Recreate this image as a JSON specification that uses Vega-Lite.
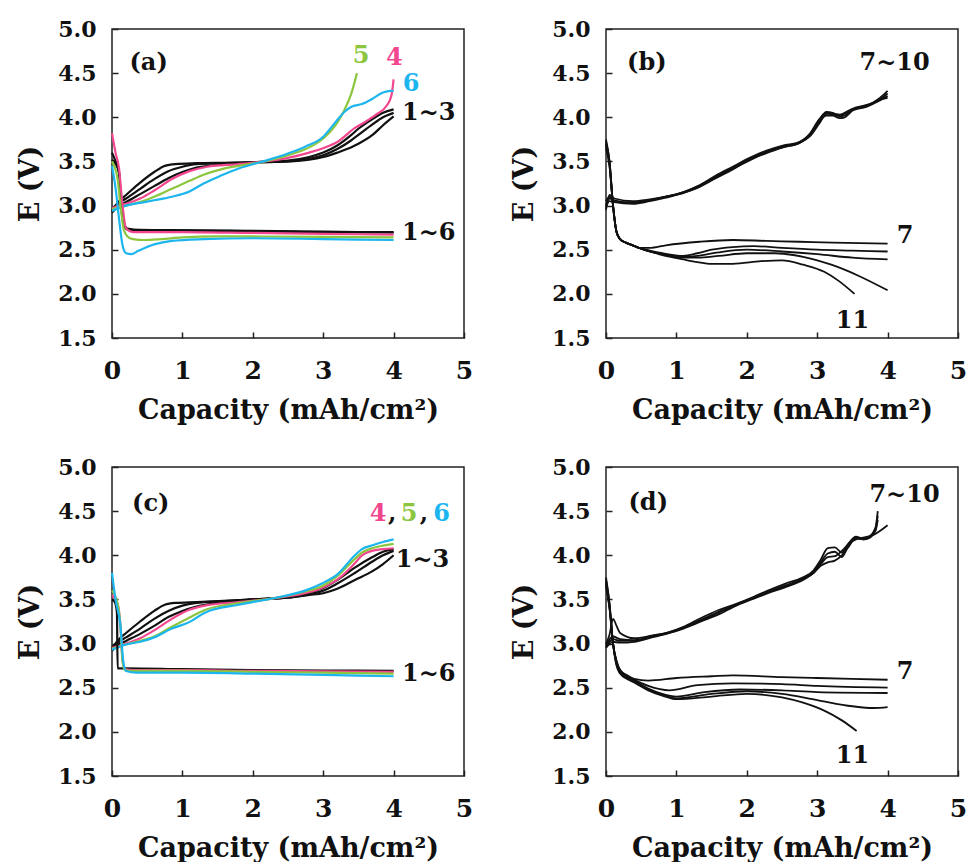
{
"$schema": "https://vega.github.io/schema/vega-lite/v6.json",
"padding": {"left": 15, "top": 17, "right": 5, "bottom": 0},
"columns": 2,
"spacing": {"row": 31, "column": 35},
"config": {
 "view": {"stroke": "#222", "strokeWidth": 1.5},
 "font": "DejaVu Serif",
 "axis": {"labelFont": "DejaVu Serif", "labelFontWeight": "bold", "labelColor": "#111", "titleFont": "DejaVu Serif", "titleFontWeight": "bold", "titleFontSize": 27, "titleColor": "#111", "grid": false, "domain": false, "tickSize": -6, "tickColor": "#222", "tickWidth": 1.5, "labelFlush": false, "labelOverlap": false},
 "axisX": {"labelFontSize": 25, "labelPadding": 26, "titlePadding": 14},
 "axisY": {"labelFontSize": 22, "labelPadding": 22, "titlePadding": 13}
},
"datasets": {
"curves": [
{"p":"a","s":"ac1","c":"k","x":0,"y":2.95},{"p":"a","s":"ac1","c":"k","x":0.1,"y":3.05},{"p":"a","s":"ac1","c":"k","x":0.2,"y":3.12},{"p":"a","s":"ac1","c":"k","x":0.4,"y":3.26},{"p":"a","s":"ac1","c":"k","x":0.6,"y":3.38},{"p":"a","s":"ac1","c":"k","x":0.75,"y":3.45},{"p":"a","s":"ac1","c":"k","x":0.9,"y":3.47},{"p":"a","s":"ac1","c":"k","x":1.2,"y":3.48},{"p":"a","s":"ac1","c":"k","x":1.6,"y":3.485},{"p":"a","s":"ac1","c":"k","x":2.0,"y":3.49},{"p":"a","s":"ac1","c":"k","x":2.5,"y":3.5},{"p":"a","s":"ac1","c":"k","x":2.8,"y":3.52},{"p":"a","s":"ac1","c":"k","x":3.0,"y":3.55},{"p":"a","s":"ac1","c":"k","x":3.2,"y":3.6},{"p":"a","s":"ac1","c":"k","x":3.4,"y":3.66},{"p":"a","s":"ac1","c":"k","x":3.5,"y":3.7},{"p":"a","s":"ac1","c":"k","x":3.7,"y":3.8},{"p":"a","s":"ac1","c":"k","x":3.85,"y":3.91},{"p":"a","s":"ac1","c":"k","x":4.0,"y":4.01},
{"p":"a","s":"ac2","c":"k","x":0,"y":2.93},{"p":"a","s":"ac2","c":"k","x":0.1,"y":3.03},{"p":"a","s":"ac2","c":"k","x":0.2,"y":3.08},{"p":"a","s":"ac2","c":"k","x":0.4,"y":3.19},{"p":"a","s":"ac2","c":"k","x":0.6,"y":3.3},{"p":"a","s":"ac2","c":"k","x":0.8,"y":3.39},{"p":"a","s":"ac2","c":"k","x":1.0,"y":3.44},{"p":"a","s":"ac2","c":"k","x":1.2,"y":3.47},{"p":"a","s":"ac2","c":"k","x":1.6,"y":3.48},{"p":"a","s":"ac2","c":"k","x":2.0,"y":3.49},{"p":"a","s":"ac2","c":"k","x":2.5,"y":3.5},{"p":"a","s":"ac2","c":"k","x":2.8,"y":3.53},{"p":"a","s":"ac2","c":"k","x":3.0,"y":3.57},{"p":"a","s":"ac2","c":"k","x":3.2,"y":3.64},{"p":"a","s":"ac2","c":"k","x":3.4,"y":3.74},{"p":"a","s":"ac2","c":"k","x":3.5,"y":3.8},{"p":"a","s":"ac2","c":"k","x":3.7,"y":3.92},{"p":"a","s":"ac2","c":"k","x":3.85,"y":4.0},{"p":"a","s":"ac2","c":"k","x":4.0,"y":4.05},
{"p":"a","s":"ac3","c":"k","x":0,"y":2.92},{"p":"a","s":"ac3","c":"k","x":0.1,"y":3.0},{"p":"a","s":"ac3","c":"k","x":0.2,"y":3.04},{"p":"a","s":"ac3","c":"k","x":0.4,"y":3.13},{"p":"a","s":"ac3","c":"k","x":0.6,"y":3.22},{"p":"a","s":"ac3","c":"k","x":0.8,"y":3.31},{"p":"a","s":"ac3","c":"k","x":1.0,"y":3.38},{"p":"a","s":"ac3","c":"k","x":1.2,"y":3.43},{"p":"a","s":"ac3","c":"k","x":1.5,"y":3.46},{"p":"a","s":"ac3","c":"k","x":2.0,"y":3.49},{"p":"a","s":"ac3","c":"k","x":2.5,"y":3.51},{"p":"a","s":"ac3","c":"k","x":2.8,"y":3.55},{"p":"a","s":"ac3","c":"k","x":3.0,"y":3.6},{"p":"a","s":"ac3","c":"k","x":3.2,"y":3.68},{"p":"a","s":"ac3","c":"k","x":3.4,"y":3.8},{"p":"a","s":"ac3","c":"k","x":3.5,"y":3.87},{"p":"a","s":"ac3","c":"k","x":3.7,"y":3.98},{"p":"a","s":"ac3","c":"k","x":3.85,"y":4.05},{"p":"a","s":"ac3","c":"k","x":4.0,"y":4.09},
{"p":"a","s":"ac4","c":"p","x":0,"y":2.97},{"p":"a","s":"ac4","c":"p","x":0.1,"y":3.0},{"p":"a","s":"ac4","c":"p","x":0.2,"y":3.02},{"p":"a","s":"ac4","c":"p","x":0.4,"y":3.08},{"p":"a","s":"ac4","c":"p","x":0.6,"y":3.17},{"p":"a","s":"ac4","c":"p","x":0.85,"y":3.3},{"p":"a","s":"ac4","c":"p","x":1.1,"y":3.39},{"p":"a","s":"ac4","c":"p","x":1.35,"y":3.44},{"p":"a","s":"ac4","c":"p","x":1.8,"y":3.47},{"p":"a","s":"ac4","c":"p","x":2.05,"y":3.49},{"p":"a","s":"ac4","c":"p","x":2.5,"y":3.54},{"p":"a","s":"ac4","c":"p","x":2.8,"y":3.6},{"p":"a","s":"ac4","c":"p","x":3.0,"y":3.65},{"p":"a","s":"ac4","c":"p","x":3.2,"y":3.72},{"p":"a","s":"ac4","c":"p","x":3.45,"y":3.88},{"p":"a","s":"ac4","c":"p","x":3.6,"y":3.95},{"p":"a","s":"ac4","c":"p","x":3.75,"y":4.03},{"p":"a","s":"ac4","c":"p","x":3.9,"y":4.13},{"p":"a","s":"ac4","c":"p","x":3.97,"y":4.25},{"p":"a","s":"ac4","c":"p","x":4.0,"y":4.43},
{"p":"a","s":"ac5","c":"g","x":0,"y":2.96},{"p":"a","s":"ac5","c":"g","x":0.2,"y":3.0},{"p":"a","s":"ac5","c":"g","x":0.4,"y":3.04},{"p":"a","s":"ac5","c":"g","x":0.6,"y":3.1},{"p":"a","s":"ac5","c":"g","x":0.85,"y":3.19},{"p":"a","s":"ac5","c":"g","x":1.1,"y":3.28},{"p":"a","s":"ac5","c":"g","x":1.3,"y":3.35},{"p":"a","s":"ac5","c":"g","x":1.55,"y":3.41},{"p":"a","s":"ac5","c":"g","x":1.8,"y":3.45},{"p":"a","s":"ac5","c":"g","x":2.1,"y":3.49},{"p":"a","s":"ac5","c":"g","x":2.5,"y":3.57},{"p":"a","s":"ac5","c":"g","x":2.75,"y":3.64},{"p":"a","s":"ac5","c":"g","x":3.0,"y":3.76},{"p":"a","s":"ac5","c":"g","x":3.2,"y":3.94},{"p":"a","s":"ac5","c":"g","x":3.3,"y":4.08},{"p":"a","s":"ac5","c":"g","x":3.4,"y":4.27},{"p":"a","s":"ac5","c":"g","x":3.48,"y":4.5},
{"p":"a","s":"ac6","c":"b","x":0,"y":2.94},{"p":"a","s":"ac6","c":"b","x":0.2,"y":3.0},{"p":"a","s":"ac6","c":"b","x":0.4,"y":3.03},{"p":"a","s":"ac6","c":"b","x":0.6,"y":3.06},{"p":"a","s":"ac6","c":"b","x":0.85,"y":3.1},{"p":"a","s":"ac6","c":"b","x":1.1,"y":3.16},{"p":"a","s":"ac6","c":"b","x":1.3,"y":3.25},{"p":"a","s":"ac6","c":"b","x":1.55,"y":3.34},{"p":"a","s":"ac6","c":"b","x":1.8,"y":3.42},{"p":"a","s":"ac6","c":"b","x":2.1,"y":3.49},{"p":"a","s":"ac6","c":"b","x":2.5,"y":3.59},{"p":"a","s":"ac6","c":"b","x":2.75,"y":3.67},{"p":"a","s":"ac6","c":"b","x":3.0,"y":3.78},{"p":"a","s":"ac6","c":"b","x":3.15,"y":3.92},{"p":"a","s":"ac6","c":"b","x":3.3,"y":4.06},{"p":"a","s":"ac6","c":"b","x":3.4,"y":4.12},{"p":"a","s":"ac6","c":"b","x":3.55,"y":4.15},{"p":"a","s":"ac6","c":"b","x":3.7,"y":4.21},{"p":"a","s":"ac6","c":"b","x":3.85,"y":4.28},{"p":"a","s":"ac6","c":"b","x":3.95,"y":4.3},{"p":"a","s":"ac6","c":"b","x":4.0,"y":4.3},
{"p":"a","s":"ad1","c":"k","x":0,"y":3.52},{"p":"a","s":"ad1","c":"k","x":0.05,"y":3.47},{"p":"a","s":"ad1","c":"k","x":0.1,"y":3.38},{"p":"a","s":"ad1","c":"k","x":0.13,"y":3.0},{"p":"a","s":"ad1","c":"k","x":0.17,"y":2.78},{"p":"a","s":"ad1","c":"k","x":0.22,"y":2.73},{"p":"a","s":"ad1","c":"k","x":0.4,"y":2.72},{"p":"a","s":"ad1","c":"k","x":1,"y":2.72},{"p":"a","s":"ad1","c":"k","x":2,"y":2.71},{"p":"a","s":"ad1","c":"k","x":3,"y":2.7},{"p":"a","s":"ad1","c":"k","x":4,"y":2.7},
{"p":"a","s":"ad2","c":"k","x":0,"y":3.6},{"p":"a","s":"ad2","c":"k","x":0.05,"y":3.5},{"p":"a","s":"ad2","c":"k","x":0.1,"y":3.36},{"p":"a","s":"ad2","c":"k","x":0.13,"y":3.02},{"p":"a","s":"ad2","c":"k","x":0.17,"y":2.8},{"p":"a","s":"ad2","c":"k","x":0.22,"y":2.74},{"p":"a","s":"ad2","c":"k","x":0.4,"y":2.725},{"p":"a","s":"ad2","c":"k","x":1,"y":2.72},{"p":"a","s":"ad2","c":"k","x":2,"y":2.715},{"p":"a","s":"ad2","c":"k","x":3,"y":2.705},{"p":"a","s":"ad2","c":"k","x":4,"y":2.695},
{"p":"a","s":"ad4","c":"p","x":0,"y":3.82},{"p":"a","s":"ad4","c":"p","x":0.05,"y":3.6},{"p":"a","s":"ad4","c":"p","x":0.1,"y":3.42},{"p":"a","s":"ad4","c":"p","x":0.15,"y":3.0},{"p":"a","s":"ad4","c":"p","x":0.2,"y":2.74},{"p":"a","s":"ad4","c":"p","x":0.3,"y":2.7},{"p":"a","s":"ad4","c":"p","x":1,"y":2.7},{"p":"a","s":"ad4","c":"p","x":2,"y":2.69},{"p":"a","s":"ad4","c":"p","x":3,"y":2.68},{"p":"a","s":"ad4","c":"p","x":4,"y":2.67},
{"p":"a","s":"ad5","c":"g","x":0,"y":3.5},{"p":"a","s":"ad5","c":"g","x":0.08,"y":3.3},{"p":"a","s":"ad5","c":"g","x":0.12,"y":3.0},{"p":"a","s":"ad5","c":"g","x":0.17,"y":2.72},{"p":"a","s":"ad5","c":"g","x":0.22,"y":2.65},{"p":"a","s":"ad5","c":"g","x":0.3,"y":2.62},{"p":"a","s":"ad5","c":"g","x":0.45,"y":2.61},{"p":"a","s":"ad5","c":"g","x":0.7,"y":2.62},{"p":"a","s":"ad5","c":"g","x":1,"y":2.64},{"p":"a","s":"ad5","c":"g","x":1.5,"y":2.65},{"p":"a","s":"ad5","c":"g","x":2,"y":2.65},{"p":"a","s":"ad5","c":"g","x":3,"y":2.645},{"p":"a","s":"ad5","c":"g","x":4,"y":2.64},
{"p":"a","s":"ad6","c":"b","x":0,"y":3.45},{"p":"a","s":"ad6","c":"b","x":0.05,"y":3.2},{"p":"a","s":"ad6","c":"b","x":0.1,"y":2.85},{"p":"a","s":"ad6","c":"b","x":0.15,"y":2.55},{"p":"a","s":"ad6","c":"b","x":0.2,"y":2.46},{"p":"a","s":"ad6","c":"b","x":0.27,"y":2.45},{"p":"a","s":"ad6","c":"b","x":0.38,"y":2.49},{"p":"a","s":"ad6","c":"b","x":0.6,"y":2.56},{"p":"a","s":"ad6","c":"b","x":0.85,"y":2.6},{"p":"a","s":"ad6","c":"b","x":1.3,"y":2.62},{"p":"a","s":"ad6","c":"b","x":2,"y":2.63},{"p":"a","s":"ad6","c":"b","x":3,"y":2.62},{"p":"a","s":"ad6","c":"b","x":4,"y":2.61},

{"p":"b","s":"bc7","c":"k","x":0,"y":3.0},{"p":"b","s":"bc7","c":"k","x":0.05,"y":3.08},{"p":"b","s":"bc7","c":"k","x":0.12,"y":3.06},{"p":"b","s":"bc7","c":"k","x":0.38,"y":3.03},{"p":"b","s":"bc7","c":"k","x":0.62,"y":3.06},{"p":"b","s":"bc7","c":"k","x":0.85,"y":3.1},{"p":"b","s":"bc7","c":"k","x":1.09,"y":3.14},{"p":"b","s":"bc7","c":"k","x":1.33,"y":3.22},{"p":"b","s":"bc7","c":"k","x":1.56,"y":3.33},{"p":"b","s":"bc7","c":"k","x":1.8,"y":3.43},{"p":"b","s":"bc7","c":"k","x":2.04,"y":3.53},{"p":"b","s":"bc7","c":"k","x":2.27,"y":3.61},{"p":"b","s":"bc7","c":"k","x":2.51,"y":3.67},{"p":"b","s":"bc7","c":"k","x":2.75,"y":3.72},{"p":"b","s":"bc7","c":"k","x":2.89,"y":3.8},{"p":"b","s":"bc7","c":"k","x":3.03,"y":3.97},{"p":"b","s":"bc7","c":"k","x":3.13,"y":4.06},{"p":"b","s":"bc7","c":"k","x":3.22,"y":4.05},{"p":"b","s":"bc7","c":"k","x":3.32,"y":4.01},{"p":"b","s":"bc7","c":"k","x":3.39,"y":4.02},{"p":"b","s":"bc7","c":"k","x":3.51,"y":4.09},{"p":"b","s":"bc7","c":"k","x":3.7,"y":4.13},{"p":"b","s":"bc7","c":"k","x":3.89,"y":4.22},{"p":"b","s":"bc7","c":"k","x":4.0,"y":4.3},
{"p":"b","s":"bc8","c":"k","x":0,"y":2.95},{"p":"b","s":"bc8","c":"k","x":0.05,"y":3.12},{"p":"b","s":"bc8","c":"k","x":0.12,"y":3.08},{"p":"b","s":"bc8","c":"k","x":0.38,"y":3.05},{"p":"b","s":"bc8","c":"k","x":0.62,"y":3.07},{"p":"b","s":"bc8","c":"k","x":0.85,"y":3.1},{"p":"b","s":"bc8","c":"k","x":1.09,"y":3.15},{"p":"b","s":"bc8","c":"k","x":1.33,"y":3.23},{"p":"b","s":"bc8","c":"k","x":1.56,"y":3.32},{"p":"b","s":"bc8","c":"k","x":1.8,"y":3.42},{"p":"b","s":"bc8","c":"k","x":2.04,"y":3.51},{"p":"b","s":"bc8","c":"k","x":2.27,"y":3.6},{"p":"b","s":"bc8","c":"k","x":2.51,"y":3.66},{"p":"b","s":"bc8","c":"k","x":2.75,"y":3.71},{"p":"b","s":"bc8","c":"k","x":2.89,"y":3.78},{"p":"b","s":"bc8","c":"k","x":3.03,"y":3.93},{"p":"b","s":"bc8","c":"k","x":3.13,"y":4.04},{"p":"b","s":"bc8","c":"k","x":3.22,"y":4.04},{"p":"b","s":"bc8","c":"k","x":3.32,"y":4.03},{"p":"b","s":"bc8","c":"k","x":3.39,"y":4.05},{"p":"b","s":"bc8","c":"k","x":3.51,"y":4.1},{"p":"b","s":"bc8","c":"k","x":3.7,"y":4.14},{"p":"b","s":"bc8","c":"k","x":3.89,"y":4.2},{"p":"b","s":"bc8","c":"k","x":4.0,"y":4.27},
{"p":"b","s":"bc9","c":"k","x":0,"y":3.05},{"p":"b","s":"bc9","c":"k","x":0.05,"y":3.1},{"p":"b","s":"bc9","c":"k","x":0.12,"y":3.04},{"p":"b","s":"bc9","c":"k","x":0.38,"y":3.02},{"p":"b","s":"bc9","c":"k","x":0.62,"y":3.05},{"p":"b","s":"bc9","c":"k","x":0.85,"y":3.09},{"p":"b","s":"bc9","c":"k","x":1.09,"y":3.14},{"p":"b","s":"bc9","c":"k","x":1.33,"y":3.21},{"p":"b","s":"bc9","c":"k","x":1.56,"y":3.31},{"p":"b","s":"bc9","c":"k","x":1.8,"y":3.41},{"p":"b","s":"bc9","c":"k","x":2.04,"y":3.52},{"p":"b","s":"bc9","c":"k","x":2.27,"y":3.59},{"p":"b","s":"bc9","c":"k","x":2.51,"y":3.66},{"p":"b","s":"bc9","c":"k","x":2.75,"y":3.71},{"p":"b","s":"bc9","c":"k","x":2.89,"y":3.79},{"p":"b","s":"bc9","c":"k","x":3.03,"y":3.95},{"p":"b","s":"bc9","c":"k","x":3.13,"y":4.02},{"p":"b","s":"bc9","c":"k","x":3.22,"y":4.02},{"p":"b","s":"bc9","c":"k","x":3.32,"y":3.99},{"p":"b","s":"bc9","c":"k","x":3.39,"y":4.0},{"p":"b","s":"bc9","c":"k","x":3.51,"y":4.08},{"p":"b","s":"bc9","c":"k","x":3.7,"y":4.12},{"p":"b","s":"bc9","c":"k","x":3.89,"y":4.19},{"p":"b","s":"bc9","c":"k","x":4.0,"y":4.24},
{"p":"b","s":"bc10","c":"k","x":0,"y":2.98},{"p":"b","s":"bc10","c":"k","x":0.05,"y":3.05},{"p":"b","s":"bc10","c":"k","x":0.12,"y":3.04},{"p":"b","s":"bc10","c":"k","x":0.38,"y":3.04},{"p":"b","s":"bc10","c":"k","x":0.62,"y":3.06},{"p":"b","s":"bc10","c":"k","x":0.85,"y":3.1},{"p":"b","s":"bc10","c":"k","x":1.09,"y":3.15},{"p":"b","s":"bc10","c":"k","x":1.33,"y":3.23},{"p":"b","s":"bc10","c":"k","x":1.56,"y":3.34},{"p":"b","s":"bc10","c":"k","x":1.8,"y":3.44},{"p":"b","s":"bc10","c":"k","x":2.04,"y":3.54},{"p":"b","s":"bc10","c":"k","x":2.27,"y":3.62},{"p":"b","s":"bc10","c":"k","x":2.51,"y":3.68},{"p":"b","s":"bc10","c":"k","x":2.75,"y":3.72},{"p":"b","s":"bc10","c":"k","x":2.89,"y":3.81},{"p":"b","s":"bc10","c":"k","x":3.03,"y":3.98},{"p":"b","s":"bc10","c":"k","x":3.13,"y":4.05},{"p":"b","s":"bc10","c":"k","x":3.22,"y":4.03},{"p":"b","s":"bc10","c":"k","x":3.32,"y":4.02},{"p":"b","s":"bc10","c":"k","x":3.39,"y":4.04},{"p":"b","s":"bc10","c":"k","x":3.51,"y":4.09},{"p":"b","s":"bc10","c":"k","x":3.7,"y":4.12},{"p":"b","s":"bc10","c":"k","x":3.89,"y":4.2},{"p":"b","s":"bc10","c":"k","x":4.0,"y":4.22},
{"p":"b","s":"bd7","c":"k","x":0,"y":3.75},{"p":"b","s":"bd7","c":"k","x":0.05,"y":3.5},{"p":"b","s":"bd7","c":"k","x":0.1,"y":3.0},{"p":"b","s":"bd7","c":"k","x":0.15,"y":2.7},{"p":"b","s":"bd7","c":"k","x":0.2,"y":2.62},{"p":"b","s":"bd7","c":"k","x":0.28,"y":2.58},{"p":"b","s":"bd7","c":"k","x":0.38,"y":2.55},{"p":"b","s":"bd7","c":"k","x":0.47,"y":2.52},{"p":"b","s":"bd7","c":"k","x":0.62,"y":2.52},{"p":"b","s":"bd7","c":"k","x":0.85,"y":2.55},{"p":"b","s":"bd7","c":"k","x":1.33,"y":2.59},{"p":"b","s":"bd7","c":"k","x":1.8,"y":2.61},{"p":"b","s":"bd7","c":"k","x":2.27,"y":2.6},{"p":"b","s":"bd7","c":"k","x":2.75,"y":2.59},{"p":"b","s":"bd7","c":"k","x":3.22,"y":2.58},{"p":"b","s":"bd7","c":"k","x":4.0,"y":2.57},
{"p":"b","s":"bd8","c":"k","x":0,"y":3.72},{"p":"b","s":"bd8","c":"k","x":0.05,"y":3.5},{"p":"b","s":"bd8","c":"k","x":0.1,"y":3.0},{"p":"b","s":"bd8","c":"k","x":0.15,"y":2.7},{"p":"b","s":"bd8","c":"k","x":0.2,"y":2.62},{"p":"b","s":"bd8","c":"k","x":0.28,"y":2.58},{"p":"b","s":"bd8","c":"k","x":0.38,"y":2.55},{"p":"b","s":"bd8","c":"k","x":0.47,"y":2.52},{"p":"b","s":"bd8","c":"k","x":0.62,"y":2.49},{"p":"b","s":"bd8","c":"k","x":0.8,"y":2.46},{"p":"b","s":"bd8","c":"k","x":1.1,"y":2.43},{"p":"b","s":"bd8","c":"k","x":1.3,"y":2.46},{"p":"b","s":"bd8","c":"k","x":1.5,"y":2.5},{"p":"b","s":"bd8","c":"k","x":1.8,"y":2.53},{"p":"b","s":"bd8","c":"k","x":2.1,"y":2.54},{"p":"b","s":"bd8","c":"k","x":2.5,"y":2.52},{"p":"b","s":"bd8","c":"k","x":3.0,"y":2.5},{"p":"b","s":"bd8","c":"k","x":3.5,"y":2.49},{"p":"b","s":"bd8","c":"k","x":4.0,"y":2.48},
{"p":"b","s":"bd9","c":"k","x":0,"y":3.7},{"p":"b","s":"bd9","c":"k","x":0.05,"y":3.48},{"p":"b","s":"bd9","c":"k","x":0.1,"y":3.0},{"p":"b","s":"bd9","c":"k","x":0.15,"y":2.7},{"p":"b","s":"bd9","c":"k","x":0.2,"y":2.62},{"p":"b","s":"bd9","c":"k","x":0.28,"y":2.58},{"p":"b","s":"bd9","c":"k","x":0.38,"y":2.55},{"p":"b","s":"bd9","c":"k","x":0.47,"y":2.52},{"p":"b","s":"bd9","c":"k","x":0.62,"y":2.48},{"p":"b","s":"bd9","c":"k","x":0.8,"y":2.45},{"p":"b","s":"bd9","c":"k","x":1.1,"y":2.42},{"p":"b","s":"bd9","c":"k","x":1.3,"y":2.43},{"p":"b","s":"bd9","c":"k","x":1.6,"y":2.47},{"p":"b","s":"bd9","c":"k","x":2.0,"y":2.5},{"p":"b","s":"bd9","c":"k","x":2.5,"y":2.48},{"p":"b","s":"bd9","c":"k","x":3.0,"y":2.45},{"p":"b","s":"bd9","c":"k","x":3.5,"y":2.41},{"p":"b","s":"bd9","c":"k","x":4.0,"y":2.39},
{"p":"b","s":"bd10","c":"k","x":0,"y":3.68},{"p":"b","s":"bd10","c":"k","x":0.05,"y":3.45},{"p":"b","s":"bd10","c":"k","x":0.1,"y":3.0},{"p":"b","s":"bd10","c":"k","x":0.15,"y":2.7},{"p":"b","s":"bd10","c":"k","x":0.2,"y":2.62},{"p":"b","s":"bd10","c":"k","x":0.28,"y":2.58},{"p":"b","s":"bd10","c":"k","x":0.38,"y":2.55},{"p":"b","s":"bd10","c":"k","x":0.47,"y":2.52},{"p":"b","s":"bd10","c":"k","x":0.62,"y":2.48},{"p":"b","s":"bd10","c":"k","x":0.8,"y":2.45},{"p":"b","s":"bd10","c":"k","x":1.1,"y":2.41},{"p":"b","s":"bd10","c":"k","x":1.3,"y":2.41},{"p":"b","s":"bd10","c":"k","x":1.6,"y":2.43},{"p":"b","s":"bd10","c":"k","x":2.0,"y":2.46},{"p":"b","s":"bd10","c":"k","x":2.4,"y":2.46},{"p":"b","s":"bd10","c":"k","x":2.8,"y":2.42},{"p":"b","s":"bd10","c":"k","x":3.2,"y":2.33},{"p":"b","s":"bd10","c":"k","x":3.6,"y":2.2},{"p":"b","s":"bd10","c":"k","x":4.0,"y":2.04},
{"p":"b","s":"bd11","c":"k","x":0,"y":3.65},{"p":"b","s":"bd11","c":"k","x":0.05,"y":3.45},{"p":"b","s":"bd11","c":"k","x":0.1,"y":3.0},{"p":"b","s":"bd11","c":"k","x":0.15,"y":2.7},{"p":"b","s":"bd11","c":"k","x":0.2,"y":2.62},{"p":"b","s":"bd11","c":"k","x":0.28,"y":2.58},{"p":"b","s":"bd11","c":"k","x":0.38,"y":2.55},{"p":"b","s":"bd11","c":"k","x":0.47,"y":2.52},{"p":"b","s":"bd11","c":"k","x":0.62,"y":2.48},{"p":"b","s":"bd11","c":"k","x":0.8,"y":2.44},{"p":"b","s":"bd11","c":"k","x":1.1,"y":2.39},{"p":"b","s":"bd11","c":"k","x":1.3,"y":2.36},{"p":"b","s":"bd11","c":"k","x":1.5,"y":2.34},{"p":"b","s":"bd11","c":"k","x":1.8,"y":2.34},{"p":"b","s":"bd11","c":"k","x":2.2,"y":2.37},{"p":"b","s":"bd11","c":"k","x":2.5,"y":2.38},{"p":"b","s":"bd11","c":"k","x":2.8,"y":2.33},{"p":"b","s":"bd11","c":"k","x":3.1,"y":2.25},{"p":"b","s":"bd11","c":"k","x":3.3,"y":2.15},{"p":"b","s":"bd11","c":"k","x":3.53,"y":2.0},

{"p":"c","s":"cc1","c":"k","x":0,"y":2.95},{"p":"c","s":"cc1","c":"k","x":0.1,"y":3.05},{"p":"c","s":"cc1","c":"k","x":0.2,"y":3.12},{"p":"c","s":"cc1","c":"k","x":0.4,"y":3.25},{"p":"c","s":"cc1","c":"k","x":0.6,"y":3.37},{"p":"c","s":"cc1","c":"k","x":0.75,"y":3.44},{"p":"c","s":"cc1","c":"k","x":0.9,"y":3.46},{"p":"c","s":"cc1","c":"k","x":1.2,"y":3.47},{"p":"c","s":"cc1","c":"k","x":2,"y":3.5},{"p":"c","s":"cc1","c":"k","x":2.5,"y":3.52},{"p":"c","s":"cc1","c":"k","x":2.8,"y":3.55},{"p":"c","s":"cc1","c":"k","x":3.0,"y":3.57},{"p":"c","s":"cc1","c":"k","x":3.2,"y":3.62},{"p":"c","s":"cc1","c":"k","x":3.45,"y":3.72},{"p":"c","s":"cc1","c":"k","x":3.7,"y":3.82},{"p":"c","s":"cc1","c":"k","x":3.85,"y":3.9},{"p":"c","s":"cc1","c":"k","x":4.0,"y":4.0},
{"p":"c","s":"cc2","c":"k","x":0,"y":2.93},{"p":"c","s":"cc2","c":"k","x":0.1,"y":3.02},{"p":"c","s":"cc2","c":"k","x":0.2,"y":3.07},{"p":"c","s":"cc2","c":"k","x":0.4,"y":3.17},{"p":"c","s":"cc2","c":"k","x":0.6,"y":3.28},{"p":"c","s":"cc2","c":"k","x":0.8,"y":3.37},{"p":"c","s":"cc2","c":"k","x":1.0,"y":3.43},{"p":"c","s":"cc2","c":"k","x":1.2,"y":3.46},{"p":"c","s":"cc2","c":"k","x":1.6,"y":3.48},{"p":"c","s":"cc2","c":"k","x":2,"y":3.5},{"p":"c","s":"cc2","c":"k","x":2.5,"y":3.52},{"p":"c","s":"cc2","c":"k","x":2.8,"y":3.56},{"p":"c","s":"cc2","c":"k","x":3.0,"y":3.6},{"p":"c","s":"cc2","c":"k","x":3.2,"y":3.68},{"p":"c","s":"cc2","c":"k","x":3.45,"y":3.8},{"p":"c","s":"cc2","c":"k","x":3.7,"y":3.93},{"p":"c","s":"cc2","c":"k","x":3.85,"y":4.0},{"p":"c","s":"cc2","c":"k","x":4.0,"y":4.05},
{"p":"c","s":"cc3","c":"k","x":0,"y":2.92},{"p":"c","s":"cc3","c":"k","x":0.1,"y":2.99},{"p":"c","s":"cc3","c":"k","x":0.2,"y":3.03},{"p":"c","s":"cc3","c":"k","x":0.4,"y":3.11},{"p":"c","s":"cc3","c":"k","x":0.6,"y":3.2},{"p":"c","s":"cc3","c":"k","x":0.8,"y":3.3},{"p":"c","s":"cc3","c":"k","x":1.0,"y":3.37},{"p":"c","s":"cc3","c":"k","x":1.2,"y":3.42},{"p":"c","s":"cc3","c":"k","x":1.5,"y":3.46},{"p":"c","s":"cc3","c":"k","x":2,"y":3.5},{"p":"c","s":"cc3","c":"k","x":2.5,"y":3.53},{"p":"c","s":"cc3","c":"k","x":2.8,"y":3.58},{"p":"c","s":"cc3","c":"k","x":3.0,"y":3.63},{"p":"c","s":"cc3","c":"k","x":3.2,"y":3.72},{"p":"c","s":"cc3","c":"k","x":3.45,"y":3.86},{"p":"c","s":"cc3","c":"k","x":3.7,"y":3.98},{"p":"c","s":"cc3","c":"k","x":3.85,"y":4.04},{"p":"c","s":"cc3","c":"k","x":4.0,"y":4.07},
{"p":"c","s":"cc4","c":"p","x":0,"y":2.95},{"p":"c","s":"cc4","c":"p","x":0.2,"y":3.0},{"p":"c","s":"cc4","c":"p","x":0.4,"y":3.06},{"p":"c","s":"cc4","c":"p","x":0.6,"y":3.15},{"p":"c","s":"cc4","c":"p","x":0.85,"y":3.28},{"p":"c","s":"cc4","c":"p","x":1.09,"y":3.38},{"p":"c","s":"cc4","c":"p","x":1.32,"y":3.43},{"p":"c","s":"cc4","c":"p","x":1.8,"y":3.47},{"p":"c","s":"cc4","c":"p","x":2.27,"y":3.51},{"p":"c","s":"cc4","c":"p","x":2.74,"y":3.57},{"p":"c","s":"cc4","c":"p","x":2.98,"y":3.63},{"p":"c","s":"cc4","c":"p","x":3.21,"y":3.73},{"p":"c","s":"cc4","c":"p","x":3.45,"y":3.91},{"p":"c","s":"cc4","c":"p","x":3.55,"y":4.0},{"p":"c","s":"cc4","c":"p","x":3.69,"y":4.05},{"p":"c","s":"cc4","c":"p","x":3.85,"y":4.07},{"p":"c","s":"cc4","c":"p","x":4.0,"y":4.08},
{"p":"c","s":"cc5","c":"g","x":0,"y":2.94},{"p":"c","s":"cc5","c":"g","x":0.2,"y":2.99},{"p":"c","s":"cc5","c":"g","x":0.4,"y":3.03},{"p":"c","s":"cc5","c":"g","x":0.6,"y":3.08},{"p":"c","s":"cc5","c":"g","x":0.85,"y":3.19},{"p":"c","s":"cc5","c":"g","x":1.09,"y":3.29},{"p":"c","s":"cc5","c":"g","x":1.32,"y":3.38},{"p":"c","s":"cc5","c":"g","x":1.8,"y":3.46},{"p":"c","s":"cc5","c":"g","x":2.27,"y":3.51},{"p":"c","s":"cc5","c":"g","x":2.74,"y":3.59},{"p":"c","s":"cc5","c":"g","x":2.98,"y":3.65},{"p":"c","s":"cc5","c":"g","x":3.21,"y":3.77},{"p":"c","s":"cc5","c":"g","x":3.45,"y":3.96},{"p":"c","s":"cc5","c":"g","x":3.55,"y":4.03},{"p":"c","s":"cc5","c":"g","x":3.69,"y":4.08},{"p":"c","s":"cc5","c":"g","x":3.85,"y":4.11},{"p":"c","s":"cc5","c":"g","x":4.0,"y":4.13},
{"p":"c","s":"cc6","c":"b","x":0,"y":2.93},{"p":"c","s":"cc6","c":"b","x":0.2,"y":2.99},{"p":"c","s":"cc6","c":"b","x":0.4,"y":3.02},{"p":"c","s":"cc6","c":"b","x":0.6,"y":3.07},{"p":"c","s":"cc6","c":"b","x":0.85,"y":3.17},{"p":"c","s":"cc6","c":"b","x":1.09,"y":3.24},{"p":"c","s":"cc6","c":"b","x":1.32,"y":3.35},{"p":"c","s":"cc6","c":"b","x":1.8,"y":3.44},{"p":"c","s":"cc6","c":"b","x":2.27,"y":3.51},{"p":"c","s":"cc6","c":"b","x":2.74,"y":3.6},{"p":"c","s":"cc6","c":"b","x":2.98,"y":3.68},{"p":"c","s":"cc6","c":"b","x":3.21,"y":3.79},{"p":"c","s":"cc6","c":"b","x":3.45,"y":4.0},{"p":"c","s":"cc6","c":"b","x":3.55,"y":4.07},{"p":"c","s":"cc6","c":"b","x":3.69,"y":4.11},{"p":"c","s":"cc6","c":"b","x":3.85,"y":4.15},{"p":"c","s":"cc6","c":"b","x":4.0,"y":4.18},
{"p":"c","s":"cd1","c":"k","x":0,"y":3.5},{"p":"c","s":"cd1","c":"k","x":0.04,"y":3.47},{"p":"c","s":"cd1","c":"k","x":0.07,"y":3.35},{"p":"c","s":"cd1","c":"k","x":0.08,"y":2.72},{"p":"c","s":"cd1","c":"k","x":0.2,"y":2.72},{"p":"c","s":"cd1","c":"k","x":1,"y":2.71},{"p":"c","s":"cd1","c":"k","x":2,"y":2.7},{"p":"c","s":"cd1","c":"k","x":3,"y":2.695},{"p":"c","s":"cd1","c":"k","x":4,"y":2.69},
{"p":"c","s":"cd4","c":"p","x":0,"y":3.55},{"p":"c","s":"cd4","c":"p","x":0.08,"y":3.45},{"p":"c","s":"cd4","c":"p","x":0.12,"y":3.2},{"p":"c","s":"cd4","c":"p","x":0.15,"y":2.8},{"p":"c","s":"cd4","c":"p","x":0.18,"y":2.71},{"p":"c","s":"cd4","c":"p","x":0.3,"y":2.7},{"p":"c","s":"cd4","c":"p","x":1,"y":2.7},{"p":"c","s":"cd4","c":"p","x":2,"y":2.69},{"p":"c","s":"cd4","c":"p","x":3,"y":2.685},{"p":"c","s":"cd4","c":"p","x":4,"y":2.68},
{"p":"c","s":"cd5","c":"g","x":0,"y":3.6},{"p":"c","s":"cd5","c":"g","x":0.08,"y":3.45},{"p":"c","s":"cd5","c":"g","x":0.12,"y":3.2},{"p":"c","s":"cd5","c":"g","x":0.15,"y":2.8},{"p":"c","s":"cd5","c":"g","x":0.18,"y":2.7},{"p":"c","s":"cd5","c":"g","x":0.3,"y":2.69},{"p":"c","s":"cd5","c":"g","x":1,"y":2.69},{"p":"c","s":"cd5","c":"g","x":2,"y":2.68},{"p":"c","s":"cd5","c":"g","x":3,"y":2.67},{"p":"c","s":"cd5","c":"g","x":4,"y":2.66},
{"p":"c","s":"cd6","c":"b","x":0,"y":3.8},{"p":"c","s":"cd6","c":"b","x":0.05,"y":3.5},{"p":"c","s":"cd6","c":"b","x":0.12,"y":3.2},{"p":"c","s":"cd6","c":"b","x":0.16,"y":2.8},{"p":"c","s":"cd6","c":"b","x":0.2,"y":2.69},{"p":"c","s":"cd6","c":"b","x":0.35,"y":2.67},{"p":"c","s":"cd6","c":"b","x":1,"y":2.67},{"p":"c","s":"cd6","c":"b","x":2,"y":2.66},{"p":"c","s":"cd6","c":"b","x":3,"y":2.645},{"p":"c","s":"cd6","c":"b","x":4,"y":2.63},

{"p":"d","s":"dc7","c":"k","x":0,"y":3.0},{"p":"d","s":"dc7","c":"k","x":0.05,"y":3.1},{"p":"d","s":"dc7","c":"k","x":0.1,"y":3.28},{"p":"d","s":"dc7","c":"k","x":0.15,"y":3.2},{"p":"d","s":"dc7","c":"k","x":0.2,"y":3.12},{"p":"d","s":"dc7","c":"k","x":0.4,"y":3.06},{"p":"d","s":"dc7","c":"k","x":0.65,"y":3.09},{"p":"d","s":"dc7","c":"k","x":0.9,"y":3.13},{"p":"d","s":"dc7","c":"k","x":1.1,"y":3.19},{"p":"d","s":"dc7","c":"k","x":1.35,"y":3.29},{"p":"d","s":"dc7","c":"k","x":1.6,"y":3.38},{"p":"d","s":"dc7","c":"k","x":1.85,"y":3.45},{"p":"d","s":"dc7","c":"k","x":2.1,"y":3.53},{"p":"d","s":"dc7","c":"k","x":2.3,"y":3.6},{"p":"d","s":"dc7","c":"k","x":2.55,"y":3.68},{"p":"d","s":"dc7","c":"k","x":2.8,"y":3.75},{"p":"d","s":"dc7","c":"k","x":2.95,"y":3.83},{"p":"d","s":"dc7","c":"k","x":3.05,"y":3.95},{"p":"d","s":"dc7","c":"k","x":3.15,"y":4.08},{"p":"d","s":"dc7","c":"k","x":3.25,"y":4.09},{"p":"d","s":"dc7","c":"k","x":3.35,"y":4.03},{"p":"d","s":"dc7","c":"k","x":3.45,"y":4.14},{"p":"d","s":"dc7","c":"k","x":3.55,"y":4.21},{"p":"d","s":"dc7","c":"k","x":3.65,"y":4.19},{"p":"d","s":"dc7","c":"k","x":3.75,"y":4.22},{"p":"d","s":"dc7","c":"k","x":3.83,"y":4.32},{"p":"d","s":"dc7","c":"k","x":3.86,"y":4.5},
{"p":"d","s":"dc8","c":"k","x":0,"y":2.98},{"p":"d","s":"dc8","c":"k","x":0.1,"y":3.08},{"p":"d","s":"dc8","c":"k","x":0.2,"y":3.05},{"p":"d","s":"dc8","c":"k","x":0.4,"y":3.04},{"p":"d","s":"dc8","c":"k","x":0.65,"y":3.08},{"p":"d","s":"dc8","c":"k","x":0.9,"y":3.13},{"p":"d","s":"dc8","c":"k","x":1.1,"y":3.18},{"p":"d","s":"dc8","c":"k","x":1.35,"y":3.26},{"p":"d","s":"dc8","c":"k","x":1.6,"y":3.35},{"p":"d","s":"dc8","c":"k","x":1.85,"y":3.44},{"p":"d","s":"dc8","c":"k","x":2.1,"y":3.52},{"p":"d","s":"dc8","c":"k","x":2.3,"y":3.58},{"p":"d","s":"dc8","c":"k","x":2.55,"y":3.65},{"p":"d","s":"dc8","c":"k","x":2.8,"y":3.73},{"p":"d","s":"dc8","c":"k","x":2.95,"y":3.8},{"p":"d","s":"dc8","c":"k","x":3.05,"y":3.9},{"p":"d","s":"dc8","c":"k","x":3.15,"y":3.98},{"p":"d","s":"dc8","c":"k","x":3.25,"y":3.99},{"p":"d","s":"dc8","c":"k","x":3.35,"y":4.05},{"p":"d","s":"dc8","c":"k","x":3.45,"y":4.13},{"p":"d","s":"dc8","c":"k","x":3.55,"y":4.18},{"p":"d","s":"dc8","c":"k","x":3.65,"y":4.2},{"p":"d","s":"dc8","c":"k","x":3.8,"y":4.23},{"p":"d","s":"dc8","c":"k","x":3.9,"y":4.28},{"p":"d","s":"dc8","c":"k","x":4.0,"y":4.34},
{"p":"d","s":"dc9","c":"k","x":0,"y":2.96},{"p":"d","s":"dc9","c":"k","x":0.1,"y":3.05},{"p":"d","s":"dc9","c":"k","x":0.2,"y":3.03},{"p":"d","s":"dc9","c":"k","x":0.4,"y":3.03},{"p":"d","s":"dc9","c":"k","x":0.65,"y":3.08},{"p":"d","s":"dc9","c":"k","x":0.9,"y":3.12},{"p":"d","s":"dc9","c":"k","x":1.1,"y":3.17},{"p":"d","s":"dc9","c":"k","x":1.35,"y":3.25},{"p":"d","s":"dc9","c":"k","x":1.6,"y":3.33},{"p":"d","s":"dc9","c":"k","x":1.85,"y":3.43},{"p":"d","s":"dc9","c":"k","x":2.1,"y":3.51},{"p":"d","s":"dc9","c":"k","x":2.3,"y":3.57},{"p":"d","s":"dc9","c":"k","x":2.55,"y":3.64},{"p":"d","s":"dc9","c":"k","x":2.8,"y":3.72},{"p":"d","s":"dc9","c":"k","x":2.95,"y":3.8},{"p":"d","s":"dc9","c":"k","x":3.05,"y":3.88},{"p":"d","s":"dc9","c":"k","x":3.15,"y":3.92},{"p":"d","s":"dc9","c":"k","x":3.25,"y":3.94},{"p":"d","s":"dc9","c":"k","x":3.35,"y":4.0},{"p":"d","s":"dc9","c":"k","x":3.45,"y":4.1},{"p":"d","s":"dc9","c":"k","x":3.55,"y":4.2},{"p":"d","s":"dc9","c":"k","x":3.65,"y":4.18},{"p":"d","s":"dc9","c":"k","x":3.75,"y":4.2},{"p":"d","s":"dc9","c":"k","x":3.83,"y":4.3},{"p":"d","s":"dc9","c":"k","x":3.86,"y":4.45},
{"p":"d","s":"dc10","c":"k","x":0,"y":2.95},{"p":"d","s":"dc10","c":"k","x":0.1,"y":3.02},{"p":"d","s":"dc10","c":"k","x":0.2,"y":3.01},{"p":"d","s":"dc10","c":"k","x":0.4,"y":3.02},{"p":"d","s":"dc10","c":"k","x":0.65,"y":3.07},{"p":"d","s":"dc10","c":"k","x":0.9,"y":3.12},{"p":"d","s":"dc10","c":"k","x":1.1,"y":3.18},{"p":"d","s":"dc10","c":"k","x":1.35,"y":3.27},{"p":"d","s":"dc10","c":"k","x":1.6,"y":3.36},{"p":"d","s":"dc10","c":"k","x":1.85,"y":3.44},{"p":"d","s":"dc10","c":"k","x":2.1,"y":3.52},{"p":"d","s":"dc10","c":"k","x":2.3,"y":3.59},{"p":"d","s":"dc10","c":"k","x":2.55,"y":3.66},{"p":"d","s":"dc10","c":"k","x":2.8,"y":3.74},{"p":"d","s":"dc10","c":"k","x":2.95,"y":3.81},{"p":"d","s":"dc10","c":"k","x":3.05,"y":3.92},{"p":"d","s":"dc10","c":"k","x":3.15,"y":4.02},{"p":"d","s":"dc10","c":"k","x":3.25,"y":4.04},{"p":"d","s":"dc10","c":"k","x":3.35,"y":3.98},{"p":"d","s":"dc10","c":"k","x":3.45,"y":4.12},{"p":"d","s":"dc10","c":"k","x":3.55,"y":4.19},{"p":"d","s":"dc10","c":"k","x":3.65,"y":4.18},{"p":"d","s":"dc10","c":"k","x":3.75,"y":4.21},{"p":"d","s":"dc10","c":"k","x":3.83,"y":4.28},{"p":"d","s":"dc10","c":"k","x":3.86,"y":4.4},
{"p":"d","s":"dd7","c":"k","x":0,"y":3.75},{"p":"d","s":"dd7","c":"k","x":0.05,"y":3.45},{"p":"d","s":"dd7","c":"k","x":0.1,"y":3.0},{"p":"d","s":"dd7","c":"k","x":0.15,"y":2.8},{"p":"d","s":"dd7","c":"k","x":0.2,"y":2.7},{"p":"d","s":"dd7","c":"k","x":0.3,"y":2.64},{"p":"d","s":"dd7","c":"k","x":0.4,"y":2.6},{"p":"d","s":"dd7","c":"k","x":0.6,"y":2.58},{"p":"d","s":"dd7","c":"k","x":1,"y":2.61},{"p":"d","s":"dd7","c":"k","x":1.5,"y":2.63},{"p":"d","s":"dd7","c":"k","x":1.8,"y":2.64},{"p":"d","s":"dd7","c":"k","x":2.5,"y":2.62},{"p":"d","s":"dd7","c":"k","x":3,"y":2.61},{"p":"d","s":"dd7","c":"k","x":4,"y":2.59},
{"p":"d","s":"dd8","c":"k","x":0,"y":3.72},{"p":"d","s":"dd8","c":"k","x":0.05,"y":3.45},{"p":"d","s":"dd8","c":"k","x":0.1,"y":3.0},{"p":"d","s":"dd8","c":"k","x":0.15,"y":2.8},{"p":"d","s":"dd8","c":"k","x":0.2,"y":2.7},{"p":"d","s":"dd8","c":"k","x":0.3,"y":2.63},{"p":"d","s":"dd8","c":"k","x":0.4,"y":2.59},{"p":"d","s":"dd8","c":"k","x":0.6,"y":2.52},{"p":"d","s":"dd8","c":"k","x":0.9,"y":2.47},{"p":"d","s":"dd8","c":"k","x":1.3,"y":2.53},{"p":"d","s":"dd8","c":"k","x":1.8,"y":2.55},{"p":"d","s":"dd8","c":"k","x":2.5,"y":2.54},{"p":"d","s":"dd8","c":"k","x":3,"y":2.52},{"p":"d","s":"dd8","c":"k","x":4,"y":2.5},
{"p":"d","s":"dd9","c":"k","x":0,"y":3.7},{"p":"d","s":"dd9","c":"k","x":0.05,"y":3.42},{"p":"d","s":"dd9","c":"k","x":0.1,"y":3.0},{"p":"d","s":"dd9","c":"k","x":0.15,"y":2.78},{"p":"d","s":"dd9","c":"k","x":0.2,"y":2.68},{"p":"d","s":"dd9","c":"k","x":0.3,"y":2.62},{"p":"d","s":"dd9","c":"k","x":0.4,"y":2.58},{"p":"d","s":"dd9","c":"k","x":0.6,"y":2.49},{"p":"d","s":"dd9","c":"k","x":0.8,"y":2.43},{"p":"d","s":"dd9","c":"k","x":1.0,"y":2.4},{"p":"d","s":"dd9","c":"k","x":1.4,"y":2.45},{"p":"d","s":"dd9","c":"k","x":1.9,"y":2.48},{"p":"d","s":"dd9","c":"k","x":2.5,"y":2.47},{"p":"d","s":"dd9","c":"k","x":3,"y":2.45},{"p":"d","s":"dd9","c":"k","x":4,"y":2.44},
{"p":"d","s":"dd10","c":"k","x":0,"y":3.68},{"p":"d","s":"dd10","c":"k","x":0.05,"y":3.4},{"p":"d","s":"dd10","c":"k","x":0.1,"y":3.0},{"p":"d","s":"dd10","c":"k","x":0.15,"y":2.76},{"p":"d","s":"dd10","c":"k","x":0.2,"y":2.67},{"p":"d","s":"dd10","c":"k","x":0.3,"y":2.61},{"p":"d","s":"dd10","c":"k","x":0.4,"y":2.57},{"p":"d","s":"dd10","c":"k","x":0.6,"y":2.48},{"p":"d","s":"dd10","c":"k","x":0.8,"y":2.42},{"p":"d","s":"dd10","c":"k","x":1.0,"y":2.38},{"p":"d","s":"dd10","c":"k","x":1.5,"y":2.43},{"p":"d","s":"dd10","c":"k","x":2.0,"y":2.46},{"p":"d","s":"dd10","c":"k","x":2.5,"y":2.43},{"p":"d","s":"dd10","c":"k","x":3.0,"y":2.36},{"p":"d","s":"dd10","c":"k","x":3.5,"y":2.29},{"p":"d","s":"dd10","c":"k","x":3.8,"y":2.27},{"p":"d","s":"dd10","c":"k","x":4.0,"y":2.28},
{"p":"d","s":"dd11","c":"k","x":0,"y":3.65},{"p":"d","s":"dd11","c":"k","x":0.05,"y":3.4},{"p":"d","s":"dd11","c":"k","x":0.1,"y":3.0},{"p":"d","s":"dd11","c":"k","x":0.15,"y":2.75},{"p":"d","s":"dd11","c":"k","x":0.2,"y":2.66},{"p":"d","s":"dd11","c":"k","x":0.3,"y":2.6},{"p":"d","s":"dd11","c":"k","x":0.4,"y":2.56},{"p":"d","s":"dd11","c":"k","x":0.6,"y":2.47},{"p":"d","s":"dd11","c":"k","x":0.8,"y":2.41},{"p":"d","s":"dd11","c":"k","x":1.0,"y":2.37},{"p":"d","s":"dd11","c":"k","x":1.5,"y":2.4},{"p":"d","s":"dd11","c":"k","x":2.0,"y":2.43},{"p":"d","s":"dd11","c":"k","x":2.5,"y":2.39},{"p":"d","s":"dd11","c":"k","x":2.8,"y":2.33},{"p":"d","s":"dd11","c":"k","x":3.1,"y":2.24},{"p":"d","s":"dd11","c":"k","x":3.35,"y":2.13},{"p":"d","s":"dd11","c":"k","x":3.56,"y":2.01}
],
"labels": [
{"p":"a","t":"(a)","c":"k","x":0.52,"y":4.61},{"p":"a","t":"5","c":"g","x":3.54,"y":4.69},{"p":"a","t":"4","c":"p","x":4.01,"y":4.67},{"p":"a","t":"6","c":"b","x":4.25,"y":4.38},{"p":"a","t":"1~3","c":"k","x":4.5,"y":4.05},{"p":"a","t":"1~6","c":"k","x":4.5,"y":2.69},
{"p":"b","t":"(b)","c":"k","x":0.58,"y":4.61},{"p":"b","t":"7~10","c":"k","x":4.1,"y":4.62},{"p":"b","t":"7","c":"k","x":4.25,"y":2.65},{"p":"b","t":"11","c":"k","x":3.5,"y":1.69},
{"p":"c","t":"(c)","c":"k","x":0.55,"y":4.58},{"p":"c","t":"4","c":"p","x":3.78,"y":4.47},{"p":"c","t":",","c":"k","x":3.98,"y":4.47},{"p":"c","t":"5","c":"g","x":4.22,"y":4.47},{"p":"c","t":",","c":"k","x":4.43,"y":4.47},{"p":"c","t":"6","c":"b","x":4.68,"y":4.47},{"p":"c","t":"1~3","c":"k","x":4.41,"y":3.95},{"p":"c","t":"1~6","c":"k","x":4.5,"y":2.65},
{"p":"d","t":"(d)","c":"k","x":0.6,"y":4.59},{"p":"d","t":"7~10","c":"k","x":4.24,"y":4.68},{"p":"d","t":"7","c":"k","x":4.25,"y":2.68},{"p":"d","t":"11","c":"k","x":3.5,"y":1.73}
]
},
"concat": [
{"width": 352, "height": 309, "layer": [
 {"data": {"name": "curves"}, "transform": [{"filter": "datum.p == 'a'"}], "mark": {"type": "line", "strokeWidth": 2.2, "interpolate": "monotone"},
  "encoding": {"x": {"field": "x", "type": "quantitative", "scale": {"domain": [0, 5], "nice": false}, "axis": {"values": [0,1,2,3,4,5], "format": "d", "title": "Capacity (mAh/cm²)"}},
   "y": {"field": "y", "type": "quantitative", "scale": {"domain": [1.5, 5], "nice": false, "zero": false}, "axis": {"values": [1.5,2,2.5,3,3.5,4,4.5,5], "format": ".1f", "title": "E (V)"}},
   "detail": {"field": "s"},
   "color": {"field": "c", "type": "nominal", "scale": {"domain": ["k","p","g","b"], "range": ["#111111","#f2468f","#8cc63f","#1cb5ee"]}, "legend": null}}},
 {"data": {"name": "labels"}, "transform": [{"filter": "datum.p == 'a'"}], "mark": {"type": "text", "font": "DejaVu Serif", "fontWeight": "bold", "fontSize": 24, "baseline": "middle", "align": "center"},
  "encoding": {"x": {"field": "x", "type": "quantitative"}, "y": {"field": "y", "type": "quantitative"}, "text": {"field": "t"},
   "color": {"field": "c", "type": "nominal", "scale": {"domain": ["k","p","g","b"], "range": ["#111111","#f2468f","#8cc63f","#1cb5ee"]}, "legend": null}}}
]},
{"width": 352, "height": 309, "layer": [
 {"data": {"name": "curves"}, "transform": [{"filter": "datum.p == 'b'"}], "mark": {"type": "line", "strokeWidth": 1.8, "interpolate": "monotone"},
  "encoding": {"x": {"field": "x", "type": "quantitative", "scale": {"domain": [0, 5], "nice": false}, "axis": {"values": [0,1,2,3,4,5], "format": "d", "title": "Capacity (mAh/cm²)"}},
   "y": {"field": "y", "type": "quantitative", "scale": {"domain": [1.5, 5], "nice": false, "zero": false}, "axis": {"values": [1.5,2,2.5,3,3.5,4,4.5,5], "format": ".1f", "title": "E (V)"}},
   "detail": {"field": "s"},
   "color": {"field": "c", "type": "nominal", "scale": {"domain": ["k","p","g","b"], "range": ["#111111","#f2468f","#8cc63f","#1cb5ee"]}, "legend": null}}},
 {"data": {"name": "labels"}, "transform": [{"filter": "datum.p == 'b'"}], "mark": {"type": "text", "font": "DejaVu Serif", "fontWeight": "bold", "fontSize": 24, "baseline": "middle", "align": "center"},
  "encoding": {"x": {"field": "x", "type": "quantitative"}, "y": {"field": "y", "type": "quantitative"}, "text": {"field": "t"},
   "color": {"field": "c", "type": "nominal", "scale": {"domain": ["k","p","g","b"], "range": ["#111111","#f2468f","#8cc63f","#1cb5ee"]}, "legend": null}}}
]},
{"width": 352, "height": 309, "layer": [
 {"data": {"name": "curves"}, "transform": [{"filter": "datum.p == 'c'"}], "mark": {"type": "line", "strokeWidth": 2.2, "interpolate": "monotone"},
  "encoding": {"x": {"field": "x", "type": "quantitative", "scale": {"domain": [0, 5], "nice": false}, "axis": {"values": [0,1,2,3,4,5], "format": "d", "title": "Capacity (mAh/cm²)"}},
   "y": {"field": "y", "type": "quantitative", "scale": {"domain": [1.5, 5], "nice": false, "zero": false}, "axis": {"values": [1.5,2,2.5,3,3.5,4,4.5,5], "format": ".1f", "title": "E (V)"}},
   "detail": {"field": "s"},
   "color": {"field": "c", "type": "nominal", "scale": {"domain": ["k","p","g","b"], "range": ["#111111","#f2468f","#8cc63f","#1cb5ee"]}, "legend": null}}},
 {"data": {"name": "labels"}, "transform": [{"filter": "datum.p == 'c'"}], "mark": {"type": "text", "font": "DejaVu Serif", "fontWeight": "bold", "fontSize": 24, "baseline": "middle", "align": "center"},
  "encoding": {"x": {"field": "x", "type": "quantitative"}, "y": {"field": "y", "type": "quantitative"}, "text": {"field": "t"},
   "color": {"field": "c", "type": "nominal", "scale": {"domain": ["k","p","g","b"], "range": ["#111111","#f2468f","#8cc63f","#1cb5ee"]}, "legend": null}}}
]},
{"width": 352, "height": 309, "layer": [
 {"data": {"name": "curves"}, "transform": [{"filter": "datum.p == 'd'"}], "mark": {"type": "line", "strokeWidth": 1.8, "interpolate": "monotone"},
  "encoding": {"x": {"field": "x", "type": "quantitative", "scale": {"domain": [0, 5], "nice": false}, "axis": {"values": [0,1,2,3,4,5], "format": "d", "title": "Capacity (mAh/cm²)"}},
   "y": {"field": "y", "type": "quantitative", "scale": {"domain": [1.5, 5], "nice": false, "zero": false}, "axis": {"values": [1.5,2,2.5,3,3.5,4,4.5,5], "format": ".1f", "title": "E (V)"}},
   "detail": {"field": "s"},
   "color": {"field": "c", "type": "nominal", "scale": {"domain": ["k","p","g","b"], "range": ["#111111","#f2468f","#8cc63f","#1cb5ee"]}, "legend": null}}},
 {"data": {"name": "labels"}, "transform": [{"filter": "datum.p == 'd'"}], "mark": {"type": "text", "font": "DejaVu Serif", "fontWeight": "bold", "fontSize": 24, "baseline": "middle", "align": "center"},
  "encoding": {"x": {"field": "x", "type": "quantitative"}, "y": {"field": "y", "type": "quantitative"}, "text": {"field": "t"},
   "color": {"field": "c", "type": "nominal", "scale": {"domain": ["k","p","g","b"], "range": ["#111111","#f2468f","#8cc63f","#1cb5ee"]}, "legend": null}}}
]}
]
}
